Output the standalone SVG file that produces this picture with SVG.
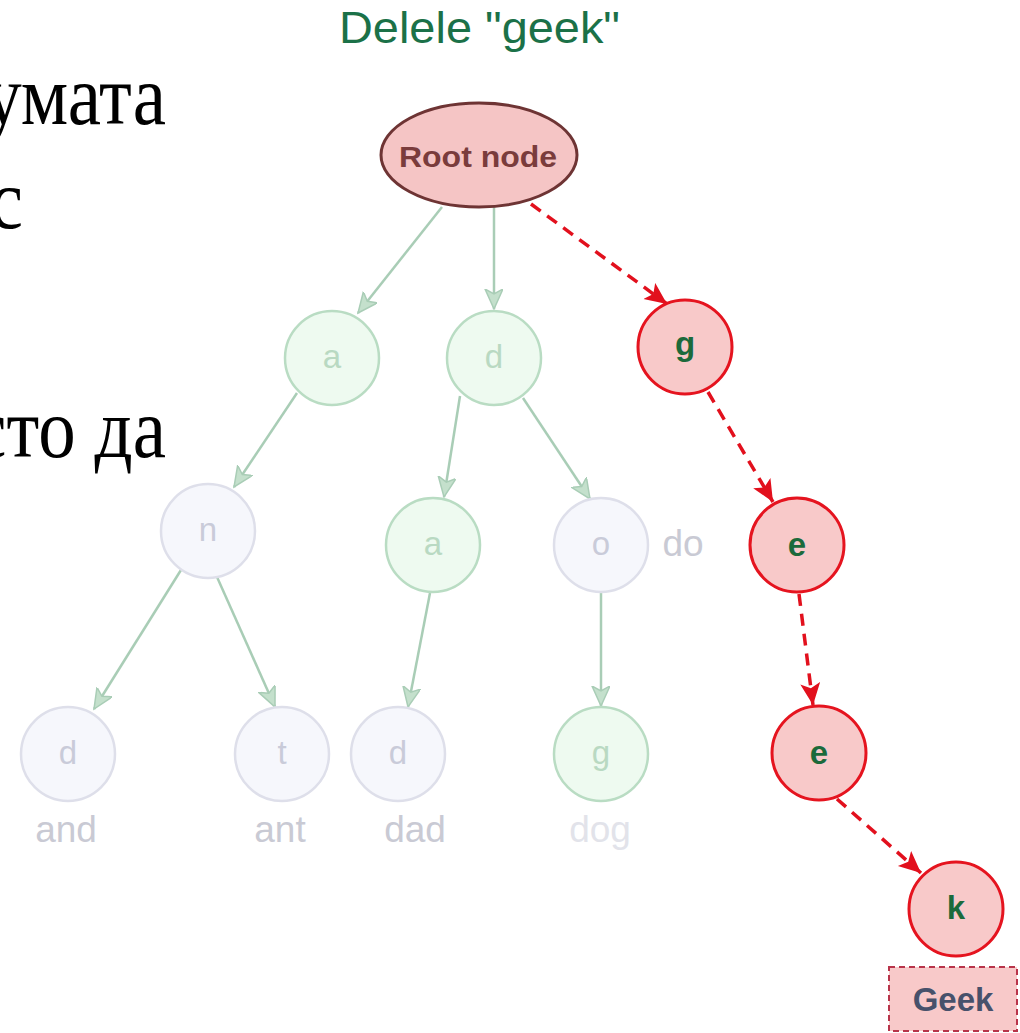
<svg xmlns="http://www.w3.org/2000/svg" width="1020" height="1033" viewBox="0 0 1020 1033">
  <style>
    .side { font-family: "Liberation Serif", "Times New Roman", serif; font-size: 75px; fill: #000; }
    .title { font-family: "Liberation Sans", Arial, sans-serif; font-size: 44px; fill: #1b7148; }
    .mint { fill: #eefaf0; stroke: #b9dcc3; stroke-width: 2.5; }
    .grey { fill: #f6f7fc; stroke: #dedfea; stroke-width: 2.5; }
    .hot { fill: #f8c9c9; stroke: #e5141f; stroke-width: 3; }
    .lt { font-family: "Liberation Sans", Arial, sans-serif; font-size: 33px; text-anchor: middle; dominant-baseline: central; }
    .mintTxt { fill: #b9d9c2; }
    .greyTxt { fill: #c9cbd9; }
    .hotTxt { font-family: "Liberation Sans", Arial, sans-serif; font-weight: bold; font-size: 33px; text-anchor: middle; dominant-baseline: central; fill: #1c6a3b; }
    .word { font-family: "Liberation Sans", Arial, sans-serif; font-size: 37px; text-anchor: middle; fill: #c9cad4; }
    .faint { stroke: #a9cdb6; stroke-width: 2.5; fill: none; marker-end: url(#faintHead); }
    .del { stroke: #e2101d; stroke-width: 3.5; fill: none; stroke-dasharray: 12 8; marker-end: url(#redHead); }
  </style>
  <defs>
    <marker id="faintHead" markerUnits="userSpaceOnUse" markerWidth="22" markerHeight="20" refX="20" refY="9" orient="auto">
      <path d="M0,0 L20,9 L0,18 L5,9 z" fill="#c4e0cc" stroke="#a9cdb6" stroke-width="1.5"/>
    </marker>
    <marker id="redHead" markerUnits="userSpaceOnUse" markerWidth="24" markerHeight="22" refX="22" refY="10" orient="auto">
      <path d="M0,0 L22,10 L0,20 L5,10 z" fill="#e2101d"/>
    </marker>
  </defs>

  <rect width="1020" height="1033" fill="#ffffff"/>

  <!-- side text, running off the left edge -->
  <text class="side" transform="translate(0,124) scale(1,1.12)" x="166" y="0" text-anchor="end">умата</text>
  <text class="side" transform="translate(0,228) scale(1,1.12)" x="23" y="0" text-anchor="end">с</text>
  <text class="side" transform="translate(0,457) scale(1,1.12)" x="166" y="0" text-anchor="end">сто да</text>

  <text class="title" x="339" y="43" textLength="281" lengthAdjust="spacingAndGlyphs">Delele "geek"</text>

  <g id="connectors">
    <line class="faint" x1="442" y1="207" x2="358" y2="313"/>
    <line class="faint" x1="494" y1="207" x2="494" y2="309"/>
    <line class="faint" x1="297" y1="393" x2="234" y2="487"/>
    <line class="faint" x1="460" y1="396" x2="444" y2="497"/>
    <line class="faint" x1="523" y1="398" x2="590" y2="499"/>
    <line class="faint" x1="181" y1="570" x2="94" y2="709"/>
    <line class="faint" x1="217" y1="577" x2="275" y2="707"/>
    <line class="faint" x1="430" y1="593" x2="408" y2="707"/>
    <line class="faint" x1="601" y1="593" x2="601" y2="706"/>
    <line class="del" x1="531" y1="204" x2="667" y2="304"/>
    <line class="del" x1="708" y1="392" x2="773" y2="502"/>
    <line class="del" x1="799" y1="594" x2="813" y2="705"/>
    <line class="del" x1="837" y1="799" x2="921" y2="873"/>
  </g>

  <g id="root">
    <ellipse cx="479" cy="155" rx="98" ry="52" fill="#f5c5c5" stroke="#6e3434" stroke-width="3"/>
    <text x="399" y="167" font-family="'Liberation Sans', Arial, sans-serif" font-weight="bold" font-size="29" fill="#7a3c3c" textLength="158" lengthAdjust="spacingAndGlyphs">Root node</text>
  </g>

  <g id="node-a">
    <circle class="mint" cx="332" cy="358" r="47"/>
    <text class="lt mintTxt" x="332" y="356">a</text>
  </g>
  <g id="node-d">
    <circle class="mint" cx="494" cy="358" r="47"/>
    <text class="lt mintTxt" x="494" y="356">d</text>
  </g>
  <g id="node-an">
    <circle class="grey" cx="208" cy="531" r="47"/>
    <text class="lt greyTxt" x="208" y="529">n</text>
  </g>
  <g id="node-da">
    <circle class="mint" cx="433" cy="545" r="47"/>
    <text class="lt mintTxt" x="433" y="543">a</text>
  </g>
  <g id="node-do">
    <circle class="grey" cx="601" cy="545" r="47"/>
    <text class="lt greyTxt" x="601" y="543">o</text>
    <text class="word" x="683" y="556">do</text>
  </g>
  <g id="node-and">
    <circle class="grey" cx="68" cy="754" r="47"/>
    <text class="lt greyTxt" x="68" y="752">d</text>
    <text class="word" x="66" y="842">and</text>
  </g>
  <g id="node-ant">
    <circle class="grey" cx="282" cy="754" r="47"/>
    <text class="lt greyTxt" x="282" y="752">t</text>
    <text class="word" x="280" y="842">ant</text>
  </g>
  <g id="node-dad">
    <circle class="grey" cx="398" cy="754" r="47"/>
    <text class="lt greyTxt" x="398" y="752">d</text>
    <text class="word" x="415" y="842">dad</text>
  </g>
  <g id="node-dog">
    <circle class="mint" cx="601" cy="754" r="47"/>
    <text class="lt mintTxt" x="601" y="752">g</text>
    <text class="word" x="600" y="842" style="fill:#e2e3ea">dog</text>
  </g>

  <g id="node-g">
    <circle class="hot" cx="685" cy="347" r="47"/>
    <text class="hotTxt" x="685" y="343">g</text>
  </g>
  <g id="node-e1">
    <circle class="hot" cx="797" cy="545" r="47"/>
    <text class="hotTxt" x="797" y="544">e</text>
  </g>
  <g id="node-e2">
    <circle class="hot" cx="819" cy="753" r="47"/>
    <text class="hotTxt" x="819" y="752">e</text>
  </g>
  <g id="node-k">
    <circle class="hot" cx="956" cy="909" r="47"/>
    <text class="hotTxt" x="956" y="907">k</text>
  </g>

  <g id="label-geek">
    <rect x="889" y="967" width="128" height="64" fill="#f8c9c9" stroke="#b8344a" stroke-width="2" stroke-dasharray="6 4"/>
    <text x="953" y="1011" font-family="'Liberation Sans', Arial, sans-serif" font-weight="bold" font-size="33" fill="#47516b" text-anchor="middle">Geek</text>
  </g>
</svg>
